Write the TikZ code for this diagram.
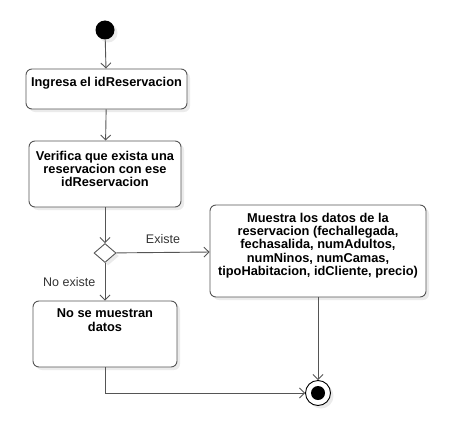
\documentclass[tikz,border=0pt]{standalone}
\usepackage{fontspec}
\setmainfont{Liberation Sans}
\usetikzlibrary{shapes.geometric,arrows.meta,shadows,calc,positioning}
\definecolor{linegray}{HTML}{555555}
\definecolor{labelgray}{HTML}{333333}
\tikzset{
  actbox/.style={rectangle, rounded corners=6pt, draw=linegray, line width=0.9pt,
    fill=white, inner xsep=3pt, inner ysep=8pt,
    drop shadow={shadow xshift=3pt, shadow yshift=-3pt, fill=black!8, opacity=1},
    font=\fontsize{12.8}{13.3}\selectfont\bfseries},
  flow/.style={draw=linegray, line width=0.9pt, -{Straight Barb[length=5pt,width=10pt]}},
  guard/.style={draw=none, fill=none, text=labelgray, font=\fontsize{12.5}{14}\selectfont}
}
\begin{document}
\begin{tikzpicture}[x=1pt, y=-1pt]
    \useasboundingbox (0,0) rectangle (454,433);

    \node[circle, fill=black, inner sep=0, minimum size=19,
          drop shadow={shadow xshift=3pt, shadow yshift=-3pt, fill=black!8, opacity=1}]
          (inicio) at (105,30) {};
    \node[actbox] (ingresa) at (106.5,89)
          {\parbox[t][24pt][t]{155pt}{\centering Ingresa el idReservacion}};
    \node[actbox, inner ysep=10pt] (verifica) at (105,174)
          {\parbox[t][46pt][t]{146pt}{\centering Verifica que exista una\\ reservacion con ese\\ idReservacion}};
    \node[diamond, draw=linegray, line width=0.9pt, fill=white, inner sep=0,
          minimum width=22, minimum height=19,
          drop shadow={shadow xshift=3pt, shadow yshift=-3pt, fill=black!8, opacity=1}]
          (decision) at (105,253) {};
    \node[actbox] (muestra) at (318,251)
          {\parbox[t][76pt][t]{210pt}{\centering Muestra los datos de la\\ reservacion (fechallegada,\\ fechasalida, numAdultos,\\ numNinos, numCamas,\\ tipoHabitacion, idCliente, precio)}};
    \node[actbox] (nodatos) at (105,334)
          {\parbox[t][50pt][t]{138pt}{\centering No se muestran\\ datos}};
    \node[circle, draw=black, line width=0.9pt, fill=white, inner sep=0, minimum size=25,
          drop shadow={shadow xshift=3pt, shadow yshift=-3pt, fill=black!8, opacity=1}]
          (fin) at (318,393) {};
    \node[circle, fill=black, inner sep=0, minimum size=14] (finpunto) at (fin) {};

    \draw[flow] (inicio) -- (ingresa);
    \draw[flow] (ingresa) -- (verifica);
    \draw[flow] (verifica) -- (decision);
    \draw[flow] (decision) -- node[guard, above=5pt] (existe) {Existe} (muestra);
    \draw[flow] (decision) -- node[guard, left=6pt] (noexiste) {No existe} (nodatos);
    \draw[flow] (muestra) -- (fin);
    \draw[flow] (nodatos) |- (fin);

\end{tikzpicture}
\end{document}
